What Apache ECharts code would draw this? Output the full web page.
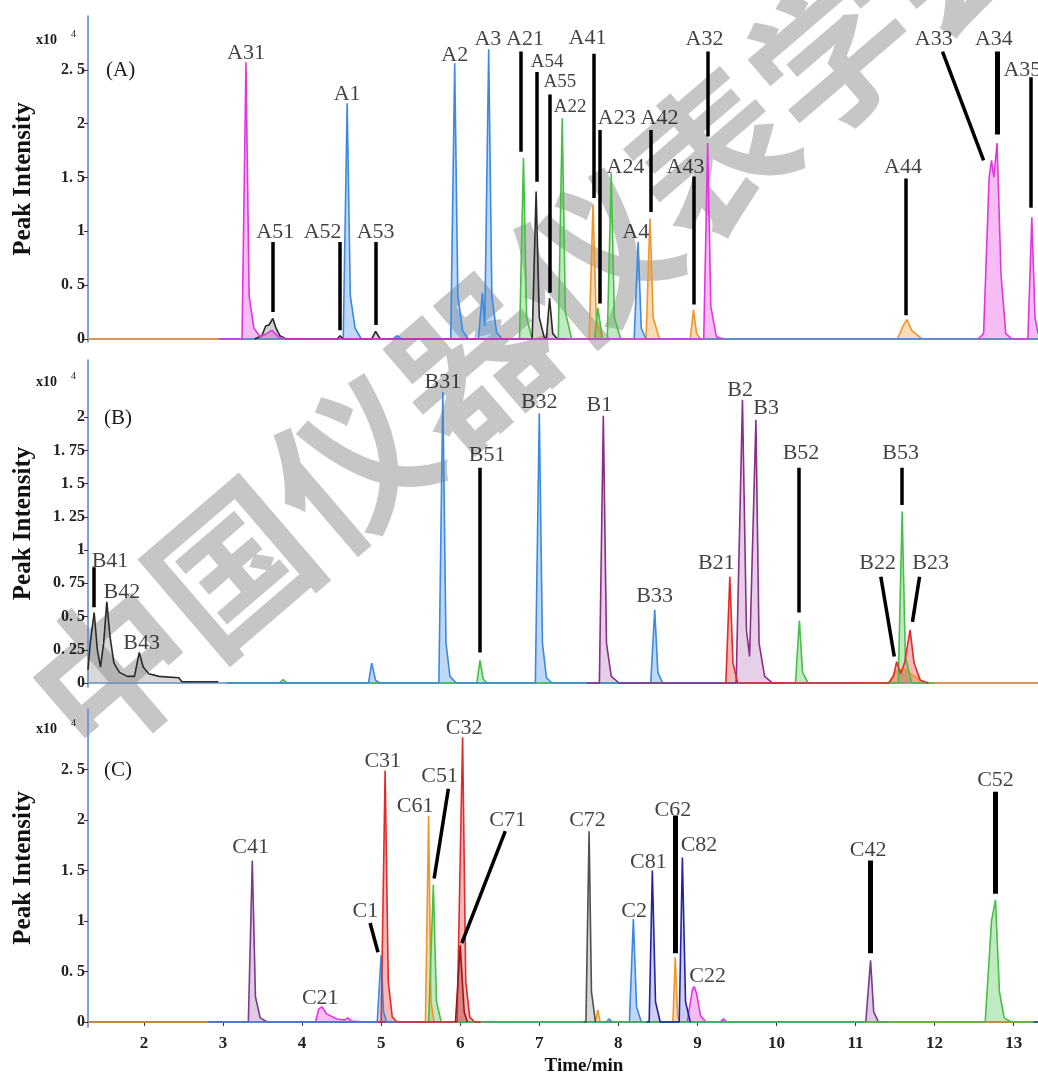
<!DOCTYPE html>
<html>
<head>
<meta charset="utf-8">
<script src="https://cdn.jsdelivr.net/npm/echarts@6/dist/echarts.min.js"></script>
<style>
html,body{margin:0;padding:0;background:#fff;}
#chart{width:1038px;height:1077px;}
</style>
</head>
<body>
<div id="chart"></div>
<script>
// ---------- axis ticks ----------
const xTicks = [2,3,4,5,6,7,8,9,10,11,12,13];
const yTicksA = [0,0.5,1,1.5,2,2.5];
const yTicksB = [0,0.25,0.5,0.75,1,1.25,1.5,1.75,2];
const yTicksC = [0,0.5,1,1.5,2,2.5];

// ---------- panel A traces [time(min), intensity(x10^4)] ----------
const orangeA = [[1.292,0],[7.63,0],[7.68,1.25],[7.72,0.2],[7.79,0],[8.35,0],[8.40,1.12],[8.44,0.2],[8.52,0],[8.91,0],[8.95,0.27],[8.99,0.05],[9.04,0],[11.53,0],[11.6,0.12],[11.65,0.18],[11.71,0.08],[11.84,0],[13.308,0]];
const blueA = [[2.95,0],[4.52,0],[4.57,2.19],[4.61,0.4],[4.67,0.1],[4.75,0],[5.15,0],[5.20,0.03],[5.26,0],[5.88,0],[5.93,2.56],[5.97,0.4],[6.03,0.08],[6.10,0],[6.23,0],[6.28,0.43],[6.31,0.12],[6.36,2.69],[6.40,0.4],[6.46,0.06],[6.53,0],[8.20,0],[8.25,0.90],[8.29,0.1],[8.35,0],[13.308,0]];
const greenA = [[6.6,0],[6.75,0],[6.80,1.68],[6.84,0.2],[6.91,0],[7.24,0],[7.29,2.05],[7.33,0.25],[7.41,0],[7.70,0],[7.74,0.29],[7.80,0],[7.86,0],[7.91,1.54],[7.95,0.2],[8.03,0],[8.2,0]];
const blackA = [[3.4,0],[3.49,0.03],[3.54,0.12],[3.58,0.13],[3.63,0.19],[3.67,0.1],[3.72,0.03],[3.8,0],[4.44,0],[4.48,0.03],[4.52,0],[4.88,0],[4.93,0.07],[4.99,0],[6.91,0],[6.96,1.37],[7.0,0.2],[7.06,0.02],[7.09,0],[7.13,0.38],[7.17,0.05],[7.23,0],[7.35,0]];
const magentaA1 = [[2.95,0],[3.24,0],[3.29,2.57],[3.33,0.4],[3.39,0.1],[3.47,0.02],[3.55,0.05],[3.62,0.08],[3.7,0.02],[3.8,0],[9.08,0],[9.13,1.82],[9.17,0.3],[9.24,0.02],[9.33,0]];
const magentaA2 = [[12.55,0],[12.62,0.05],[12.69,1.5],[12.72,1.66],[12.75,1.5],[12.79,1.82],[12.84,0.6],[12.9,0.05],[12.98,0],[13.18,0],[13.23,1.13],[13.27,0.2],[13.308,0.05]];

// ---------- panel B traces ----------
const blackB = [[1.292,0.1],[1.32,0.3],[1.37,0.53],[1.41,0.25],[1.45,0.12],[1.49,0.3],[1.53,0.61],[1.57,0.35],[1.62,0.15],[1.69,0.08],[1.79,0.05],[1.88,0.05],[1.94,0.23],[1.99,0.12],[2.06,0.07],[2.19,0.05],[2.44,0.04],[2.48,0.01],[2.94,0.01]];
const greenB = [[3.05,0],[3.71,0],[3.76,0.025],[3.81,0],[6.21,0],[6.25,0.17],[6.29,0.03],[6.34,0],[10.24,0],[10.29,0.47],[10.33,0.08],[10.4,0],[11.54,0],[11.59,1.29],[11.63,0.2],[11.71,0],[12.0,0]];
const blueB = [[3.05,0],[4.84,0],[4.88,0.15],[4.93,0.02],[4.98,0],[5.73,0],[5.78,2.19],[5.82,0.3],[5.87,0.05],[5.95,0],[6.95,0],[7.00,2.03],[7.04,0.3],[7.09,0.04],[7.16,0],[8.41,0],[8.46,0.55],[8.50,0.08],[8.56,0],[11.06,0]];
const purpleB = [[7.6,0],[7.76,0],[7.81,2.01],[7.85,0.3],[7.91,0.05],[8.01,0],[9.49,0],[9.57,2.13],[9.62,0.4],[9.66,0.2],[9.74,1.98],[9.78,0.3],[9.85,0.05],[9.95,0],[10.1,0]];
const redB = [[9.3,0],[9.36,0],[9.41,0.80],[9.45,0.15],[9.51,0],[11.42,0],[11.48,0.05],[11.52,0.16],[11.57,0.07],[11.62,0.15],[11.69,0.40],[11.74,0.15],[11.82,0.02],[11.92,0]];
const orangeB = [[11.06,0],[11.42,0],[11.5,0.08],[11.57,0.1],[11.64,0.1],[11.72,0.06],[11.87,0],[13.308,0]];

// ---------- panel C traces ----------
const orangeC = [[1.292,0],[5.56,0],[5.60,2.04],[5.63,0.2],[5.67,0],[7.71,0],[7.74,0.12],[7.77,0],[8.69,0],[8.72,0.64],[8.75,0.05],[8.78,0],[13.25,0]];
const purpleC = [[2.81,0],[3.32,0],[3.37,1.60],[3.41,0.25],[3.47,0.04],[3.56,0],[11.13,0],[11.19,0.61],[11.23,0.1],[11.29,0],[11.4,0]];
const magentaC = [[2.81,0],[4.17,0],[4.21,0.13],[4.25,0.15],[4.31,0.08],[4.44,0.03],[4.54,0.02],[4.58,0.04],[4.62,0.01],[4.8,0],[8.87,0],[8.94,0.33],[8.96,0.35],[8.99,0.28],[9.04,0.06],[9.11,0],[9.29,0],[9.33,0.03],[9.37,0],[11.02,0]];
const blueC = [[2.81,0],[4.95,0],[5.00,0.66],[5.03,0.1],[5.07,0],[7.85,0],[7.88,0.03],[7.92,0],[8.14,0],[8.19,1.02],[8.23,0.15],[8.29,0],[11.02,0]];
const redC = [[4.96,0],[5.00,0],[5.05,2.49],[5.09,0.4],[5.14,0.05],[5.2,0],[5.96,0],[6.03,2.82],[6.07,0.4],[6.12,0.05],[6.18,0],[6.26,0]];
const darkredC = [[5.94,0],[6.00,0.76],[6.05,0.1],[6.09,0]];
const greenC = [[5.5,0],[5.60,0],[5.66,1.36],[5.70,0.2],[5.76,0],[12.64,0],[12.72,1.0],[12.77,1.21],[12.82,0.3],[12.88,0.04],[12.97,0],[13.25,0]];
const greyC = [[7.56,0],[7.59,0],[7.63,1.89],[7.66,0.3],[7.71,0]];
const navyC = [[8.36,0],[8.39,0],[8.43,1.50],[8.47,0.2],[8.53,0],[8.77,0],[8.81,1.63],[8.85,0.2],[8.91,0]];

// ---------- peak labels [name, time, intensity, small?] ----------
const labelsA = [['A31',3.29,2.65],['A51',3.66,0.99],['A52',4.26,0.99],['A1',4.57,2.27],['A53',4.93,0.99],['A2',5.93,2.64],['A3',6.35,2.78],['A21',6.82,2.78],['A54',7.10,2.57,1],['A55',7.26,2.39,1],['A22',7.39,2.15,1],['A41',7.61,2.79],['A23',7.98,2.05],['A42',8.52,2.05],['A24',8.09,1.60],['A4',8.22,0.99],['A43',8.85,1.60],['A32',9.09,2.78],['A44',11.60,1.60],['A33',11.99,2.78],['A34',12.75,2.78],['A35',13.11,2.5]];
const labelsB = [['B41',1.57,0.92],['B42',1.72,0.68],['B43',1.97,0.30],['B31',5.78,2.26],['B51',6.34,1.71],['B32',7.00,2.11],['B1',7.76,2.09],['B33',8.46,0.65],['B21',9.24,0.90],['B2',9.54,2.20],['B3',9.87,2.07],['B52',10.31,1.73],['B53',11.57,1.73],['B22',11.28,0.90],['B23',11.95,0.90]];
const labelsC = [['C41',3.35,1.73],['C21',4.23,0.24],['C1',4.80,1.10],['C31',5.02,2.58],['C61',5.43,2.14],['C51',5.74,2.43],['C32',6.05,2.91],['C71',6.60,2.0],['C72',7.61,2.0],['C2',8.20,1.10],['C81',8.38,1.58],['C62',8.69,2.10],['C82',9.02,1.75],['C22',9.13,0.45],['C42',11.16,1.70],['C52',12.77,2.39]];

// ---------- leader lines [t1, v1, t2, v2, thick?] ----------
const leadersA = [[3.63,0.90,3.63,0.25],[4.47,0.90,4.47,0.08],[4.93,0.90,4.93,0.13],[6.77,2.67,6.77,1.74],[6.97,2.48,6.97,1.46],[7.13,2.27,7.13,0.43],[7.69,2.65,7.69,1.31],[7.76,1.94,7.76,0.33],[8.41,1.94,8.41,1.18],[8.95,1.51,8.95,0.32],[9.13,2.67,9.13,1.88],[11.64,1.49,11.64,0.22],[12.10,2.67,12.62,1.66],[12.79,2.67,12.79,1.90,1],[13.21,2.43,13.21,1.22]];
const leadersB = [[1.37,0.87,1.37,0.57],[6.25,1.62,6.25,0.23],[10.28,1.62,10.28,0.53],[11.59,1.62,11.59,1.34],[11.32,0.80,11.49,0.20],[11.81,0.80,11.72,0.46]];
const leadersC = [[4.86,0.98,4.96,0.69],[5.85,2.31,5.67,1.42],[6.57,1.89,6.02,0.78],[8.72,2.04,8.72,0.68,1],[11.19,1.60,11.19,0.68,1],[12.77,2.28,12.77,1.27,1]];

// ---------- styling ----------
const SERIF = '"Liberation Serif","Times New Roman",serif';
const C = {
  magenta:'#e236df', blue:'#3b8ae0', green:'#45c045', orange:'#f0942c', black:'#2a2a2a',
  purple:'#8a2c8a', red:'#e32a2a', darkred:'#981818', grey:'#505050', navy:'#2323a0', purpleC:'#7a3a8e'
};
const AXIS_BLUE = '#5a8ed4';
const X_MIN = 1.292, X_MAX = 13.308;

function trace(data, color, gi, fill) {
  return {
    type:'line', xAxisIndex:gi, yAxisIndex:gi, data:data, symbol:'none', showSymbol:false,
    lineStyle:{color:color, width:1.6}, itemStyle:{color:color},
    areaStyle:{color:fill || color, opacity:0.33}, z:2, silent:true
  };
}
function labelSeries(list, gi) {
  return {
    type:'scatter', xAxisIndex:gi, yAxisIndex:gi, symbolSize:1, silent:true, z:6,
    itemStyle:{color:'rgba(0,0,0,0)'},
    data:list.map(l => ({name:l[0], value:[l[1], l[2]], label:{fontSize: l[3] ? 19 : 22}})),
    label:{show:true, position:'inside', formatter:'{b}', color:'#111', fontFamily:SERIF, fontSize:22}
  };
}
function leaderSeries(list, gi) {
  return {
    type:'lines', coordinateSystem:'cartesian2d', xAxisIndex:gi, yAxisIndex:gi, silent:true, z:5,
    data:list.map(l => ({coords:[[l[0],l[1]],[l[2],l[3]]], lineStyle:{width: l[4] ? 5 : 3.5}})),
    lineStyle:{color:'#000', width:3.5, opacity:1}
  };
}
const fmtY = v => String(v).replace('.', '. ');

const grids = [
  {left:88, right:0, top:16, height:326},
  {left:88, right:0, top:360, height:327},
  {left:88, right:0, top:709, height:324}
];
function xAxis(gi, showLabels) {
  return {
    type:'value', gridIndex:gi, min:X_MIN, max:X_MAX,
    axisLine:{show:true, lineStyle:{color: gi===2 ? '#3a5a98' : AXIS_BLUE, width: gi===2 ? 2.2 : 1.6}},
    axisTick:{show:showLabels, customValues:xTicks, length:4, lineStyle:{color:'#333'}},
    axisLabel:{show:showLabels, customValues:xTicks, color:'#222', fontFamily:SERIF, fontWeight:'bold', fontSize:17, margin:8},
    splitLine:{show:false},
    name: showLabels ? 'Time/min' : '', nameLocation:'middle', nameGap:30,
    nameTextStyle:{color:'#111', fontFamily:SERIF, fontWeight:'bold', fontSize:19, padding:[0,0,0,42]}
  };
}
function yAxis(gi, min, max, ticks) {
  return {
    type:'value', gridIndex:gi, min:min, max:max,
    axisLine:{show:true, lineStyle:{color:AXIS_BLUE, width:1.6}},
    axisTick:{show:true, customValues:ticks, length:4, lineStyle:{color:'#333'}},
    axisLabel:{customValues:ticks, formatter:fmtY, color:'#222', fontFamily:SERIF, fontWeight:'bold', fontSize:16, margin:3},
    splitLine:{show:false},
    name:'Peak Intensity', nameLocation:'middle', nameGap:52,
    nameTextStyle:{color:'#111', fontFamily:SERIF, fontWeight:'bold', fontSize:25}
  };
}

function textEl(x, y, text, font) {
  return {type:'text', x:x, y:y, z:10, silent:true,
    style:{text:text, fill:'#1a1a1a', font:font, textVerticalAlign:'middle'}};
}

const option = {
  animation:false,
  backgroundColor:'#fff',
  grid:grids,
  xAxis:[xAxis(0,false), xAxis(1,false), xAxis(2,true)],
  yAxis:[yAxis(0,-0.028,3.0,yTicksA), yAxis(1,-0.03,2.43,yTicksB), yAxis(2,-0.05,3.1,yTicksC)],
  series:[
    trace(orangeA, C.orange, 0), trace(blueA, C.blue, 0), trace(greenA, C.green, 0),
    trace(blackA, C.black, 0, '#777'), trace(magentaA1, C.magenta, 0), trace(magentaA2, C.magenta, 0),
    trace(orangeB, C.orange, 1), trace(greenB, C.green, 1), trace(blueB, C.blue, 1),
    trace(blackB, C.black, 1, '#888'), trace(purpleB, C.purple, 1, '#b070b8'), trace(redB, C.red, 1),
    trace(orangeC, C.orange, 2), trace(magentaC, C.magenta, 2), trace(purpleC, C.purpleC, 2, '#a060b0'),
    trace(blueC, C.blue, 2), trace(greenC, C.green, 2), trace(redC, C.red, 2), trace(darkredC, C.darkred, 2),
    trace(greyC, C.grey, 2, '#888'), trace(navyC, C.navy, 2, '#6a6ad0'),
    leaderSeries(leadersA, 0), leaderSeries(leadersB, 1), leaderSeries(leadersC, 2),
    labelSeries(labelsA, 0), labelSeries(labelsB, 1), labelSeries(labelsC, 2)
  ],
  graphic:[
    {type:'text', x:532, y:310, rotation:0.71, z:0, silent:true,
     style:{text:'中国仪器仪表学会', fill:'#c6c6c6', font:'bold 158px "Noto Sans CJK SC"',
            textAlign:'center', textVerticalAlign:'middle'}},
    textEl(106, 70, '(A)', '21px ' + SERIF), textEl(104, 418, '(B)', '21px ' + SERIF), textEl(104, 770, '(C)', '21px ' + SERIF),
    textEl(36, 40, 'x10', 'bold 14px ' + SERIF), textEl(71, 34, '4', '10px ' + SERIF),
    textEl(36, 382, 'x10', 'bold 14px ' + SERIF), textEl(71, 376, '4', '10px ' + SERIF),
    textEl(36, 729, 'x10', 'bold 14px ' + SERIF), textEl(71, 723, '4', '10px ' + SERIF)
  ]
};

const chart = echarts.init(document.getElementById('chart'), null, {renderer:'canvas'});
chart.setOption(option);
</script>
</body>
</html>
